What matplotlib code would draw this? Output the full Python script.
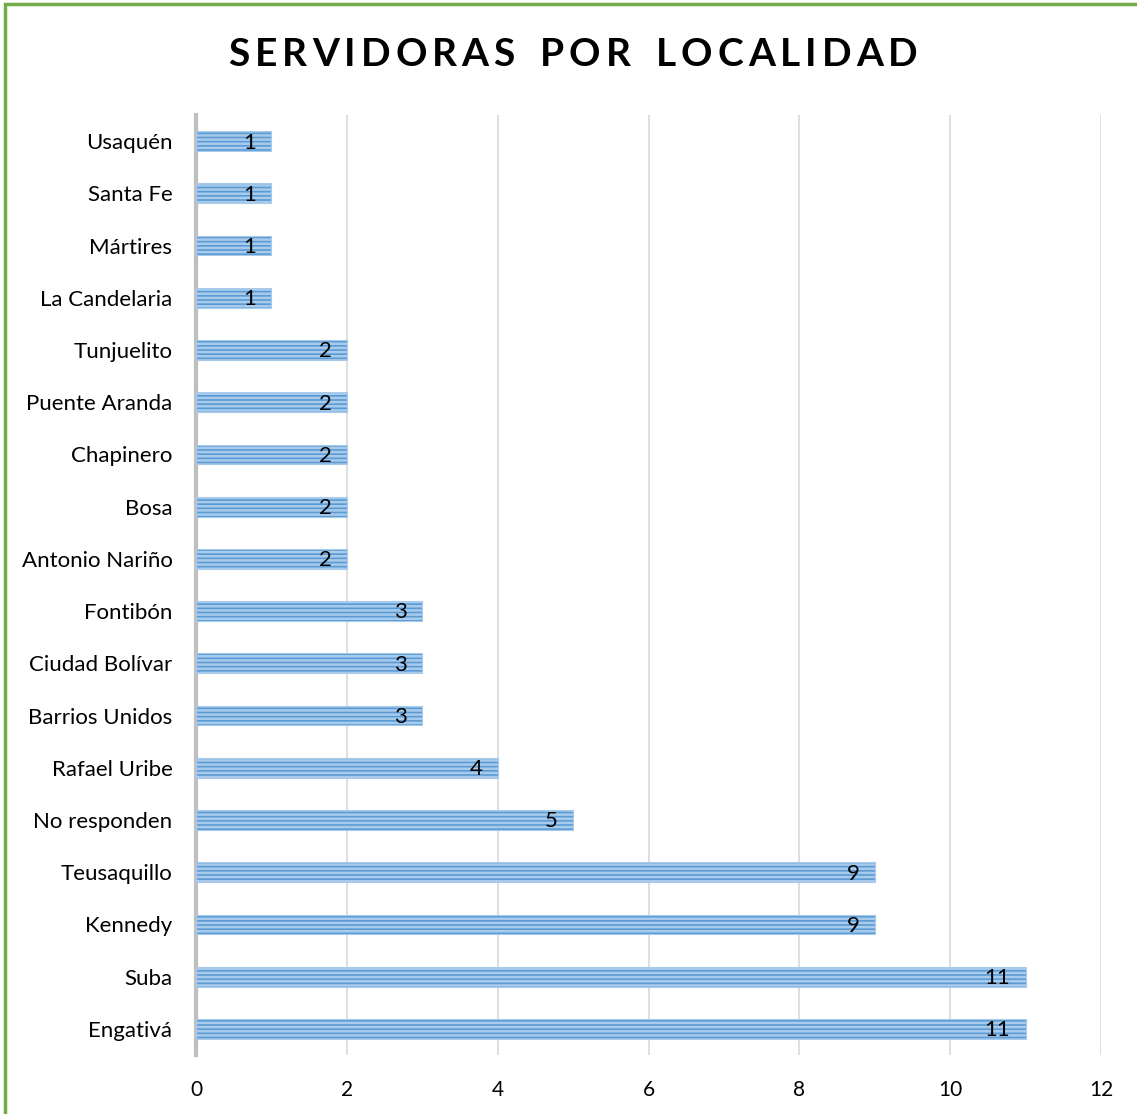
import matplotlib.pyplot as plt
from matplotlib.patches import Rectangle

# data, bottom to top as drawn
localidades = [
    "Engativá", "Suba", "Kennedy", "Teusaquillo", "No responden",
    "Rafael Uribe", "Barrios Unidos", "Ciudad Bolívar", "Fontibón",
    "Antonio Nariño", "Bosa", "Chapinero", "Puente Aranda", "Tunjuelito",
    "La Candelaria", "Mártires", "Santa Fe", "Usaquén",
]
servidoras = [11, 11, 9, 9, 5, 4, 3, 3, 3, 2, 2, 2, 2, 2, 1, 1, 1, 1]
x_ticks = [0, 2, 4, 6, 8, 10, 12]
titulo = "SERVIDORAS POR LOCALIDAD"

plt.rcParams["font.family"] = ["Lato", "DejaVu Sans"]
plt.rcParams["hatch.linewidth"] = 1.8

fig = plt.figure(figsize=(11.37, 11.14), dpi=100)
fig.patch.set_facecolor("white")

# green frame around the chart
fig.add_artist(Rectangle((5 / 1137, -0.02), 1.1, 1 - 4 / 1114 + 0.02,
                         transform=fig.transFigure, fill=False,
                         edgecolor="#70ad47", linewidth=2.5))

ax = fig.add_axes([196 / 1137, 1 - 1055 / 1114, 905 / 1137, 940 / 1114])

ypos = list(range(len(localidades)))
ax.barh(ypos, servidoras, height=0.38, color="#5b9bd5",
        edgecolor="#a9cbeb", linewidth=0.8, hatch="----", zorder=3)

for y, v in zip(ypos, servidoras):
    ax.annotate(str(v), (v, y), xytext=(-11, -1), textcoords="offset points",
                ha="right", va="center", fontsize=16, color="black", zorder=4)

ax.set_xlim(0, 12)
ax.set_ylim(-0.5, len(localidades) - 0.5)
ax.set_xticks(x_ticks)
ax.set_xticklabels([str(t) for t in x_ticks], fontsize=15)
ax.set_yticks(ypos)
ax.set_yticklabels(localidades, fontsize=16)
ax.tick_params(axis="both", length=0)
ax.tick_params(axis="x", pad=18)
ax.tick_params(axis="y", pad=17)

ax.grid(axis="x", color="#d9d9d9", linewidth=1.2, zorder=0)
for side in ["top", "right", "bottom"]:
    ax.spines[side].set_visible(False)
ax.spines["left"].set_color("#bfbfbf")
ax.spines["left"].set_linewidth(3)

# title with letter spacing: place each character by hand
renderer = fig.canvas.get_renderer()
tracking = 5  # extra px between letters
letters = []
for ch in titulo:
    t = fig.text(0, 0, ch if ch != " " else "I", fontsize=28, fontweight="bold")
    w = t.get_window_extent(renderer).width
    if ch == " ":
        w *= 1.3
    t.remove()
    letters.append((ch, w))
total = sum(w for _, w in letters) + tracking * (len(letters) - 1)
x = 573 - total / 2
for ch, w in letters:
    if ch != " ":
        fig.text(x / 1137, 1 - 55 / 1114, ch, ha="left", va="center",
                 fontsize=28, fontweight="bold")
    x += w + tracking

fig.savefig("out.png", dpi=100)
